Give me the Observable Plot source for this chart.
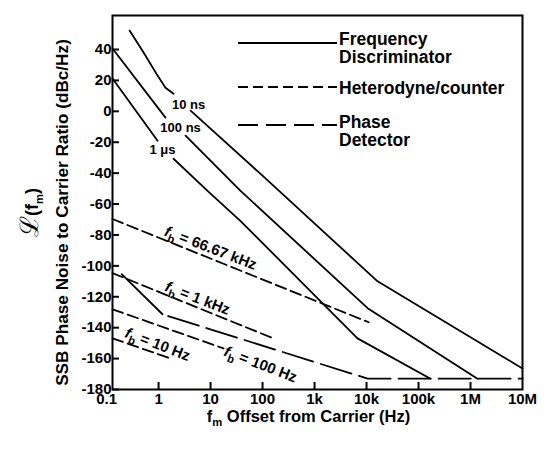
<!DOCTYPE html>
<html>
<head>
<meta charset="utf-8">
<script src="https://cdn.jsdelivr.net/npm/d3@7"></script>
<script src="https://cdn.jsdelivr.net/npm/@observablehq/plot@0.6"></script>
<style>
  html, body { margin: 0; padding: 0; background: #fff; }
</style>
</head>
<body>
<div id="chart"></div>
<script>
// ---------- data (frequency in Hz, level in dBc/Hz) ----------
const xTickValues = [0.1, 1, 10, 100, 1e3, 1e4, 1e5, 1e6, 1e7];
const xTickLabels = ["0.1", "1", "10", "100", "1k", "10k", "100k", "1M", "10M"];
const yTickValues = [40, 20, 0, -20, -40, -60, -80, -100, -120, -140, -160, -180];

// Frequency discriminator (solid), each split where its label interrupts it
const disc10nsA = [[0.277, 52.3], [0.515, 38.1], [0.957, 23.1], [1.36, 15.3], [1.94, 11.4]];
const disc10nsB = [[4.13, 0.4], [91.6, -40.5], [16300, -110], [1e7, -166.4]];
const disc100nsA = [[0.13, 40.6], [1.36, -4.1]];
const disc100nsB = [[3.3, -15.8], [37.8, -51.5], [10500, -127.4], [1.36e6, -173]];
const disc1usA = [[0.13, 21.2], [0.957, -19.1]];
const disc1usB = [[1.94, -30.7], [8.75, -51.5], [37.8, -71], [6700, -146.9], [170000, -173]];

// Phase detector (long dashes)
const phaseDetA = [[0.195, -105.4], [1.19, -131.3]];
const phaseDetB = [[1.19, -131.3], [10500, -173], [1e7, -173]];

// Heterodyne / counter (short dashes)
const het66k = [[0.13, -69.7], [11000, -136.5]];
const het1k = [[0.13, -104.7], [178, -147.5]];
const het100 = [[0.13, -128.1], [17.8, -153.4]];
const het10 = [[0.13, -146.9], [1.7, -159.9]];

// curve labels
const discLabels = ["10 ns", "100 ns", "1 μs"];
const discLabelPos = [[3.78, 4.3], [2.65, -10.6], [1.19, -24.9]];
const hetLabels = ["f_b = 66.67 kHz", "f_b = 1 kHz", "f_b = 10 Hz", "f_b = 100 Hz"];
const hetLabelPos = [[10, -88.5], [5.6, -121], [0.96, -150.8], [91.5, -163.8]];

const legendLabels = [["Frequency", "Discriminator"], ["Heterodyne/counter"], ["Phase", "Detector"]];
const yTitle = "SSB Phase Noise to Carrier Ratio (dBc/Hz)";
const ySymbol = "ℒ(f_m)";
const xTitle = "f_m Offset from Carrier (Hz)";

// ---------- drawing ----------
const FONT = "'Liberation Sans', Arial, Helvetica, sans-serif";
const pt = {x: d => d[0], y: d => d[1], stroke: "black", strokeWidth: 1.8, curve: "linear"};
const discLabelTable = discLabels.map((t, i) => ({t, f: discLabelPos[i][0], db: discLabelPos[i][1]}));
const hetLabelTable = hetLabels.map((t, i) => ({t, f: hetLabelPos[i][0], db: hetLabelPos[i][1]}));

const tickMarkY = Plot.axisTickY
  ? Plot.axisTickY({ticks: yTickValues, tickSize: 7, dx: 7, strokeWidth: 2})
  : Plot.axisY({ticks: yTickValues, tickSize: 7, dx: 7, tickFormat: () => "", label: null, strokeWidth: 2});
const tickMarkX = Plot.axisTickX
  ? Plot.axisTickX({ticks: xTickValues.slice(1, -1), tickSize: 7, dy: -7, strokeWidth: 2})
  : Plot.axisX({ticks: xTickValues.slice(1, -1), tickSize: 7, dy: -7, tickFormat: () => "", label: null, strokeWidth: 2});

const plot = Plot.plot({
  width: 544,
  height: 457,
  marginLeft: 112,
  marginRight: 22,
  marginTop: 15,
  marginBottom: 68,
  x: {type: "log", domain: [0.13, 1e7], axis: null},
  y: {domain: [-180, 62], axis: null},
  style: {fontFamily: FONT, fontWeight: "bold", fontSize: "15px", background: "white", color: "black"},
  marks: [
    Plot.frame({stroke: "black", strokeWidth: 2}),
    tickMarkY,
    tickMarkX,
    Plot.text(yTickValues, {y: d => d, frameAnchor: "left", textAnchor: "end", dx: -1, text: d => String(d), fontSize: 15}),
    Plot.text(xTickValues, {x: d => d, frameAnchor: "bottom", dy: 14, text: (d, i) => xTickLabels[i], fontSize: 15}),
    // frequency discriminator
    Plot.line(disc10nsA, pt),
    Plot.line(disc10nsB, pt),
    Plot.line(disc100nsA, pt),
    Plot.line(disc100nsB, pt),
    Plot.line(disc1usA, pt),
    Plot.line(disc1usB, pt),
    // phase detector
    Plot.line(phaseDetA, pt),
    Plot.line(phaseDetB, {...pt, strokeDasharray: "32,8", strokeDashoffset: 34}),
    // heterodyne / counter
    Plot.line(het66k, {...pt, strokeDasharray: "11,5"}),
    Plot.line(het1k, {...pt, strokeDasharray: "11,5"}),
    Plot.line(het100, {...pt, strokeDasharray: "11,5"}),
    Plot.line(het10, {...pt, strokeDasharray: "11,5"}),
    // labels
    Plot.text(discLabelTable, {x: "f", y: "db", text: "t", fontSize: 13}),
    Plot.text(hetLabelTable, {x: "f", y: "db", text: "t", fontSize: 15, rotate: 21}),
    // axis titles
    Plot.text([yTitle], {frameAnchor: "left", textAnchor: "middle", rotate: -90, dx: -50, dy: 10, fontSize: 17.2}),
    Plot.text([ySymbol], {frameAnchor: "left", textAnchor: "middle", rotate: -90, dx: -80, dy: 10, fontSize: 18, fontWeight: "normal"}),
    Plot.text([xTitle], {frameAnchor: "bottom", textAnchor: "middle", dx: -9, dy: 32, fontSize: 16.5})
  ]
});

document.getElementById("chart").appendChild(plot);

// subscripts (f_b, f_m) as real text with tspans
d3.select(plot).selectAll("text").each(function () {
  const s = this.textContent;
  if (!s.includes("_") || this.children.length) return;
  const t = d3.select(this);
  const fs = parseFloat(t.attr("font-size")) || 15;
  const [pre, post] = s.split("_");
  t.text(null);
  if (pre.startsWith("ℒ")) {
    t.append("tspan").attr("font-size", fs * 1.7).text("ℒ");
    t.append("tspan").attr("font-weight", "bold").text(pre.slice(1));
  } else if (pre === "f" && post.startsWith("b")) {
    t.append("tspan").attr("font-style", "italic").text(pre);
  } else {
    t.append("tspan").text(pre);
  }
  t.append("tspan").attr("dy", fs * 0.3).attr("font-size", fs * 0.75)
    .attr("font-weight", "bold").text(post[0]);
  t.append("tspan").attr("dy", -fs * 0.3).attr("font-weight", "bold").text(post.slice(1));
});

// legend (inside the frame, top right)
const lg = d3.select(plot).append("g")
  .attr("font-family", FONT).attr("font-weight", "bold").attr("font-size", 17.5)
  .attr("fill", "black").attr("text-anchor", "start");
const legendRows = [
  {ly: 43, dash: null, baselines: [45, 63]},
  {ly: 87, dash: "10,5", baselines: [94]},
  {ly: 125, dash: "20,8", baselines: [128, 146]}
];
legendRows.forEach((r, i) => {
  lg.append("line").attr("x1", 238).attr("x2", 337).attr("y1", r.ly).attr("y2", r.ly)
    .attr("stroke", "black").attr("stroke-width", 1.8)
    .attr("stroke-dasharray", r.dash);
  legendLabels[i].forEach((txt, j) => {
    lg.append("text").attr("x", 339).attr("y", r.baselines[j]).attr("text-anchor", "start").text(txt);
  });
});
</script>
</body>
</html>
